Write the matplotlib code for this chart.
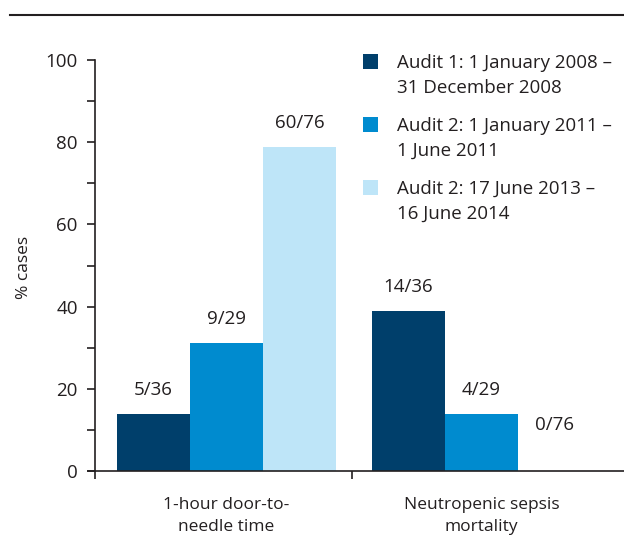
import matplotlib
matplotlib.use('Agg')
import matplotlib.pyplot as plt
from matplotlib.patches import Rectangle
from matplotlib.lines import Line2D
import numpy as np

plt.rcParams['font.family'] = ['Open Sans', 'DejaVu Sans']

# ── Data ───────────────────────────────────────────────────────────────────
categories = ['1-hour door-to-\nneedle time', 'Neutropenic sepsis\nmortality']
series_labels = [
    'Audit 1: 1 January 2008 –\n31 December 2008',
    'Audit 2: 1 January 2011 –\n1 June 2011',
    'Audit 2: 17 June 2013 –\n16 June 2014',
]
numerators = [[5, 9, 60], [14, 4, 0]]
denominators = [36, 29, 76]
colors = ['#003F6B', '#008BCF', '#BEE5F8']
text_col = '#231F20'

pct = [[100.0 * n / d for n, d in zip(row, denominators)] for row in numerators]

# ── Figure ─────────────────────────────────────────────────────────────────
W, H = 624, 538
fig = plt.figure(figsize=(W / 100, H / 100), dpi=100)
ax = fig.add_axes([88 / W, (H - 471) / H, (W - 88) / W, 411 / H])

bar_w = 73 / 255
for gi, row in enumerate(pct):
    for si, v in enumerate(row):
        x = gi + (si - 1) * bar_w
        ax.bar(x, v, width=bar_w, color=colors[si], linewidth=0)
        label = f'{numerators[gi][si]}/{denominators[si]}'
        off = 46 if v == 0 else 24
        ax.annotate(label, (x, v), xytext=(0, off * 0.72), textcoords='offset points',
                    ha='center', va='center', fontsize=13.5, color=text_col)

x_left = (88 - 226.5) / 255
x_right = (624 - 226.5) / 255
y_axis_x = (95 - 226.5) / 255
mid_x = (352 - 226.5) / 255

ax.set_xlim(x_left, x_right)
ax.set_ylim(0, 100)
ax.spines['top'].set_visible(False)
ax.spines['right'].set_visible(False)
ax.spines['left'].set_position(('data', y_axis_x))
for s in ('left', 'bottom'):
    ax.spines[s].set_color(text_col)
    ax.spines[s].set_linewidth(1.2)

ax.set_yticks(np.arange(0, 101, 20))
ax.set_yticks(np.arange(10, 100, 20), minor=True)
ax.tick_params(axis='y', which='both', direction='out', length=5.5, width=1.2,
               colors=text_col, labelsize=13.5, pad=7)
ax.set_xticks([y_axis_x, mid_x])
ax.set_xticklabels([])
ax.tick_params(axis='x', direction='out', length=6, width=1.2, colors=text_col)

for gi, cat in enumerate(categories):
    ax.text(gi, -6.3, cat, ha='center', va='top', fontsize=12.5, color=text_col,
            linespacing=1.55, transform=ax.transData)

fig.text(24 / W, 1 - 267 / H, '% cases', rotation=90, ha='center', va='center',
         fontsize=12.5, color=text_col)

# top rule
fig.add_artist(Line2D([10 / W, 1.0], [1 - 15 / H, 1 - 15 / H], color=text_col,
                      linewidth=1.5, transform=fig.transFigure))

# legend
for i, (lab, c) in enumerate(zip(series_labels, colors)):
    y_top = 62 + i * 63
    fig.add_artist(Rectangle((363 / W, 1 - (y_top + 7) / H), 15 / W, 15 / H,
                             facecolor=c, edgecolor='none', transform=fig.transFigure))
    fig.text(397 / W, 1 - (y_top - 8) / H, lab, ha='left', va='top', fontsize=13.5,
             color=text_col, linespacing=1.5)

fig.savefig('out.png', dpi=100)
